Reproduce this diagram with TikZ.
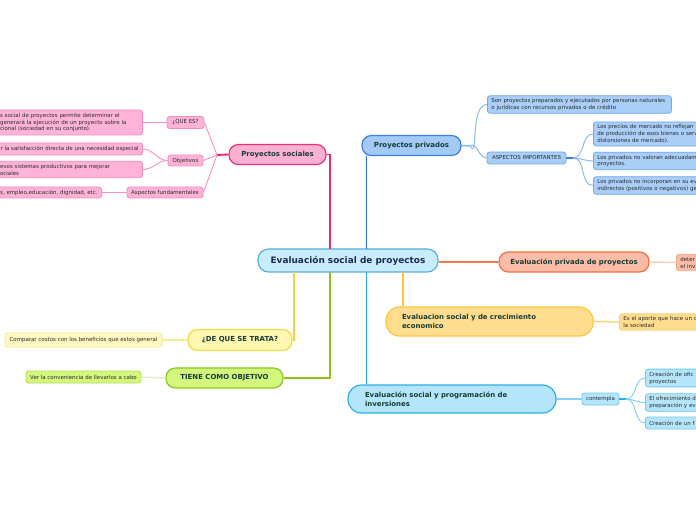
\documentclass[tikz,border=0pt]{standalone}
\usepackage{fontspec}
\setmainfont{DejaVu Sans}
\usepackage{tikz}

\definecolor{cenfill}{HTML}{C9ECFC}
\definecolor{cenline}{HTML}{56AFE0}
\definecolor{centxt}{HTML}{1B2B52}
\definecolor{titletxt}{HTML}{173B33}
\definecolor{leaftxt}{HTML}{2A2A2A}
\definecolor{psocfill}{HTML}{FBB0D2}
\definecolor{psocline}{HTML}{E8307F}
\definecolor{psocmain}{HTML}{F0247A}
\definecolor{psocleaf}{HTML}{FFB3D6}
\definecolor{psocedge}{HTML}{F98CBF}
\definecolor{psoctwig}{HTML}{F990C3}
\definecolor{pprivfill}{HTML}{A3C9F7}
\definecolor{pprivline}{HTML}{3B7FE0}
\definecolor{pprivmain}{HTML}{2F6FDB}
\definecolor{pprivleaf}{HTML}{A9CEF8}
\definecolor{pprivedge}{HTML}{74A9EE}
\definecolor{pprivtwig}{HTML}{86B6F0}
\definecolor{eprivfill}{HTML}{FABCA6}
\definecolor{eprivline}{HTML}{F2703E}
\definecolor{eprivmain}{HTML}{F47A4C}
\definecolor{eprivedge}{HTML}{F7A98A}
\definecolor{eprivtwig}{HTML}{F9CDBD}
\definecolor{crecfill}{HTML}{FFDC8E}
\definecolor{crecline}{HTML}{FFC53F}
\definecolor{crecmain}{HTML}{FFC03A}
\definecolor{crecedge}{HTML}{FFD070}
\definecolor{crectwig}{HTML}{FFD777}
\definecolor{tratafill}{HTML}{FFF6B0}
\definecolor{trataline}{HTML}{EEDB4A}
\definecolor{tratamain}{HTML}{EAD83C}
\definecolor{trataleaf}{HTML}{FFF8C2}
\definecolor{trataedge}{HTML}{F6E98A}
\definecolor{tratatwig}{HTML}{F6EB90}
\definecolor{tienefill}{HTML}{D3F67C}
\definecolor{tieneline}{HTML}{8EC524}
\definecolor{tienemain}{HTML}{8DC21F}
\definecolor{tieneedge}{HTML}{B4DE5A}
\definecolor{tienetwig}{HTML}{E2F0C8}
\definecolor{progfill}{HTML}{B4E5FA}
\definecolor{progline}{HTML}{2BAFEA}
\definecolor{progmain}{HTML}{23AEEA}
\definecolor{progedge}{HTML}{74CBF2}
\definecolor{progtwig}{HTML}{84D1F3}

\begin{document}
\begin{tikzpicture}[x=0.75pt,y=0.75pt,yscale=-1,xscale=1,
  title/.style={draw, rounded corners=7pt, line width=0.9pt, inner sep=0pt, align=center, text=titletxt, font=\fontsize{5.2}{6.8}\selectfont\bfseries},
  leaf/.style={draw, rounded corners=2pt, line width=0.6pt, inner xsep=3pt, inner ysep=2pt, minimum height=9pt, align=left, text=leaftxt, font=\fontsize{4.1}{5.2}\selectfont},
  branch/.style={line width=1.4pt},
  stem/.style={line width=1.1pt},
  twig/.style={line width=0.7pt}]
\path[use as bounding box, fill=white] (0,0) rectangle (696,520);
\clip (0,0) rectangle (696,520);

% Text Node
\node[title, fill=cenfill, draw=cenline, rounded corners=8pt, minimum width=135pt, minimum height=17.25pt, text=centxt, font=\fontsize{6.7}{8}\selectfont\bfseries] (eval) at (348,260.5) {Evaluación social de proyectos};
% Text Node
\node[title, fill=psocfill, draw=psocline, minimum width=72.75pt, minimum height=15pt] (psoc) at (277.5,154.5) {Proyectos sociales};
% Text Node
\node[title, fill=pprivfill, draw=pprivline, minimum width=74.25pt, minimum height=15pt] (ppriv) at (411.5,145.5) {Proyectos privados};
% Text Node
\node[title, fill=eprivfill, draw=eprivline, minimum width=112.5pt, minimum height=15pt] (epriv) at (574,262) {Evaluación privada de proyectos};
% Text Node
\node[title, fill=crecfill, draw=crecline, rounded corners=10pt, inner xsep=12pt, text width=131.25pt, align=left, minimum height=21.75pt] (crec) at (489.5,321.5) {Evaluacion social y de crecimiento\\economico};
% Text Node
\node[title, fill=progfill, draw=progline, rounded corners=10pt, inner xsep=12.75pt, text width=130.5pt, align=left, minimum height=21pt] (eprog) at (452,399) {Evaluación social y programación de\\inversiones};
% Text Node
\node[title, fill=tratafill, draw=trataline, minimum width=78pt, minimum height=15.75pt] (trata) at (240,340) {¿DE QUE SE TRATA?};
% Text Node
\node[title, fill=tienefill, draw=tieneline, minimum width=87.75pt, minimum height=15pt] (tiene) at (224.5,378) {TIENE COMO OBJETIVO};

% Leaves of Proyectos sociales
\node[leaf, fill=psocleaf, draw=psocedge, minimum width=27.75pt] (quees) at (185.5,122.5) {¿QUE ES?};
\node[leaf, fill=psocleaf, draw=psocedge, minimum width=26.25pt, minimum height=8.25pt] (objet) at (185.5,160.5) {Objetivos};
\node[leaf, fill=psocleaf, draw=psocedge, minimum width=57pt, minimum height=8.25pt] (aspfund) at (165,192.5) {Aspectos fundamentales};
\node[leaf, fill=psocleaf, draw=psocedge, anchor=east, text width=103.9pt, minimum height=18.75pt] (queesd) at (143,122.5) {s social de proyectos permite determinar el\\generará la ejecución de un proyecto sobre la\\cional (sociedad en su conjunto).};
\node[leaf, fill=psocleaf, draw=psocedge, anchor=east] (obj1) at (143,149) {r la satisfacción directa de una necesidad especial};
\node[leaf, fill=psocleaf, draw=psocedge, anchor=east, text width=103.9pt] (obj2) at (143,169.5) {evos sistemas productivos para mejorar\\ociales};
\node[leaf, fill=psocleaf, draw=psocedge, anchor=east, minimum height=8.25pt] (aspfd) at (102,192.5) {s, empleo,educación, dignidad, etc.};

% Leaves of Proyectos privados
\node[leaf, fill=pprivleaf, draw=pprivedge, anchor=west, text width=132pt] (sonp) at (487,104.5) {Son proyectos preparados y ejecutados por personas naturales\\o jurídicas con recursos privados o de crédito};
\node[leaf, fill=pprivleaf, draw=pprivedge, minimum width=59.25pt] (aspimp) at (526.5,158) {ASPECTOS IMPORTANTES};
\node[leaf, fill=pprivleaf, draw=pprivedge, anchor=west, text width=82.5pt] (asp1) at (593,134) {Los precios de mercado no reflejan\\de producción de esos bienes o serv\\distorsiones de mercado).};
\node[leaf, fill=pprivleaf, draw=pprivedge, anchor=west, text width=82.5pt] (asp2) at (593,161) {Los privados no valoran adecuadam\\proyectos.};
\node[leaf, fill=pprivleaf, draw=pprivedge, anchor=west, text width=82.5pt] (asp3) at (593,185.5) {Los privados no incorporan en su ev\\indirectos (positivos o negativos) ge};

% Other leaves
\node[leaf, fill=eprivfill, draw=eprivedge, anchor=west, text width=30pt] (eprivd) at (676,262.5) {deter\\el inv};
\node[leaf, fill=crecfill, draw=crecedge, anchor=west, text width=60pt] (crecd) at (619,322) {Es el aporte que hace un c\\la sociedad};
\node[leaf, fill=trataleaf, draw=trataedge, minimum width=117.75pt, minimum height=10.5pt] (tratad) at (83.5,340) {Comparar costos con los beneficios que estos general};
\node[leaf, fill=tienefill, draw=tieneedge, minimum width=86.25pt] (tiened) at (83.5,377) {Ver la conveniencia de llevarlos a cabo};
\node[leaf, fill=progfill, draw=progedge, minimum width=27.75pt] (contempla) at (600.5,399) {contempla};
\node[leaf, fill=progfill, draw=progedge, anchor=west, text width=45pt] (cont1) at (645,378) {Creación de ofic\\proyectos};
\node[leaf, fill=progfill, draw=progedge, anchor=west, text width=45pt] (cont2) at (645,402.5) {El ofrecimiento d\\preparación y ev};
\node[leaf, fill=progfill, draw=progedge, anchor=west, text width=45pt] (cont3) at (645,423) {Creación de un f};

%Hubs and branch ends
\coordinate (hsoc) at (217,155);
\coordinate (hpriv) at (470,146);
\coordinate (hasp) at (573,158);
\coordinate (hcon) at (626,399);
\coordinate (cpink) at (330,249);
\coordinate (cblue) at (366.5,249);
\coordinate (cyel) at (294,272);
\coordinate (cgrn) at (330,272);
\coordinate (ccyan) at (366.5,272);
\coordinate (cgold) at (403,272);

%Straight Lines
\draw[branch, draw=psocmain] (cpink) |- (psoc.east);
\draw[branch, draw=pprivmain] (cblue) -- (cblue |- ppriv.south);
\draw[branch, draw=eprivmain] (eval.east |- epriv.west) -- (epriv.west);
\draw[branch, draw=tratamain] (cyel) |- (trata.east);
\draw[branch, draw=tienemain] (cgrn) |- (tiene.east);
\draw[branch, draw=progmain] (ccyan) -- (ccyan |- eprog.north);
\draw[branch, draw=crecmain] (cgold) -- (cgold |- crec.north);

%Pink twigs
\draw[branch, draw=psocmain] (psoc.west) -- (hsoc);
\draw[twig, draw=psoctwig] (hsoc) -- (quees.east);
\draw[twig, draw=psoctwig] (hsoc) -- (objet.east);
\draw[twig, draw=psoctwig] (hsoc) -- (aspfund.east);
\draw[stem, draw=psoctwig] (quees.west) -- (queesd.east);
\draw[twig, draw=psoctwig] (objet.west) to[out=180,in=0] (obj1.east);
\draw[twig, draw=psoctwig] (objet.west) to[out=180,in=0] (obj2.east);
\draw[stem, draw=psoctwig] (aspfund.west) -- (aspfd.east);

%Blue twigs
\draw[stem, draw=pprivtwig] (ppriv.east) -- (hpriv);
\draw[twig, draw=pprivtwig] (hpriv) to[out=60,in=180] (sonp.west);
\draw[twig, draw=pprivtwig] (hpriv) to[out=-40,in=180] (aspimp.west);
\draw[stem, draw=pprivline] (aspimp.east) -- (hasp);
\draw[twig, draw=pprivtwig] (hasp) to[out=0,in=180] (asp1.west);
\draw[twig, draw=pprivtwig] (hasp) to[out=0,in=180] (asp2.west);
\draw[twig, draw=pprivtwig] (hasp) to[out=0,in=180] (asp3.west);

%Other twigs
\draw[stem, draw=eprivtwig] (epriv.east) -- (eprivd.west);
\draw[stem, draw=crectwig] (crec.east) -- (crecd.west);
\draw[stem, draw=tratatwig] (trata.west) -- (tratad.east);
\draw[stem, draw=tienetwig] (tiene.west) -- (tiened.east);
\draw[stem, draw=progtwig] (eprog.east) -- (contempla.west);
\draw[stem, draw=progline] (contempla.east) -- (hcon);
\draw[twig, draw=progtwig] (hcon) to[out=0,in=180] (cont1.west);
\draw[twig, draw=progtwig] (hcon) to[out=0,in=180] (cont2.west);
\draw[twig, draw=progtwig] (hcon) to[out=0,in=180] (cont3.west);

\end{tikzpicture}
\end{document}
